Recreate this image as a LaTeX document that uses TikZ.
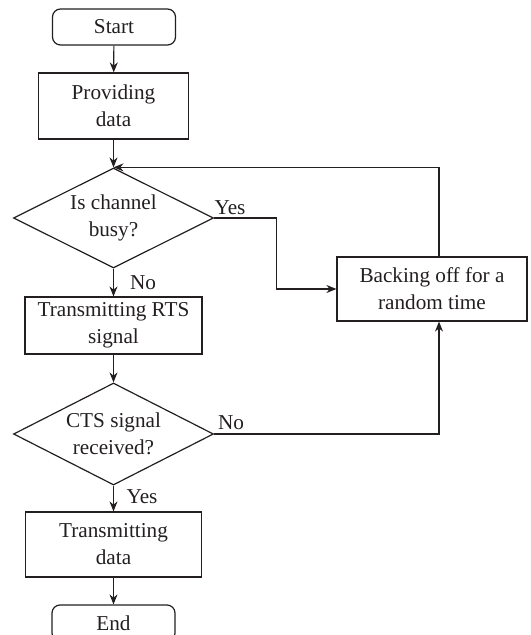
\documentclass[tikz,border=0pt]{standalone}
\usepackage{fontspec}
\setmainfont{Liberation Serif}
\usepackage{tikz}
\usetikzlibrary{arrows.meta,positioning,shapes.geometric,calc}
\definecolor{inkgray}{HTML}{231F20}
\tikzset{
  procbox/.style={
    rectangle, draw=inkgray, line width=0.6pt,
    align=center, inner sep=2pt
  },
  termbox/.style={
    rectangle, rounded corners=4pt, draw=inkgray, line width=0.6pt,
    minimum width=61.5pt, minimum height=18pt, align=center
  },
  decision/.style={
    diamond, aspect=2, draw=inkgray, line width=0.6pt,
    inner sep=0pt, minimum width=100pt, minimum height=50pt, align=center
  },
  flowline/.style={
    -{Stealth[length=5pt,width=4pt]}, line width=0.6pt, color=inkgray
  },
  branchlabel/.style={
    inner sep=0pt, color=inkgray
  },
}

\begin{document}
\begin{tikzpicture}[x=0.5pt, y=-0.5pt,
    every node/.style={font=\fontsize{10.6}{13.5}\selectfont, text=inkgray}]
  \clip (0,0) rectangle (530,635);
  \useasboundingbox (0,0) rectangle (530,635);

  % Main column
  \node[termbox] (start) at (114,27) {Start};
  \node[procbox, minimum width=75pt, minimum height=33pt] (provide) at (113.5,106)
    {Providing\\data};
  \node[decision] (busy) at (113.5,218) {Is channel\\busy?};
  \node[procbox, minimum width=88.5pt, minimum height=28.5pt] (rts) at (113.5,325.5)
    {Transmitting RTS\\signal};
  \node[decision, minimum height=51pt] (cts) at (113.5,434) {CTS signal\\received?};
  \node[procbox, minimum width=88pt, minimum height=32.5pt] (txdata) at (113.5,544.5)
    {Transmitting\\data};
  \node[termbox] (end) at (113.5,623) {End};

  % Back-off branch
  \node[procbox, minimum width=95pt, minimum height=32pt] (backoff) at (432,289)
    {Backing off for a\\random time};

  % Arrows down the column
  \draw[flowline] (start) -- (provide);
  \draw[flowline] (provide) -- (busy);
  \draw[flowline] (busy) -- (rts);
  \draw[flowline] (rts) -- (cts);
  \draw[flowline] (cts) -- (txdata);
  \draw[flowline] (txdata) -- (end);

  % Branches and loop
  \draw[flowline] (busy.east) -- ++(62,0) |- (backoff.west);
  \draw[flowline] (cts.east) -| ($(backoff.south)+(7,0)$);
  \draw[flowline] ($(backoff.north)+(7,0)$) |- (busy.north);

  % Labels
  \node[branchlabel] (yes1) at (230,208) {Yes};
  \node[branchlabel] (no1) at (143,283) {No};
  \node[branchlabel] (no2) at (231,423) {No};
  \node[branchlabel] (yes2) at (142,497) {Yes};
\end{tikzpicture}
\end{document}
